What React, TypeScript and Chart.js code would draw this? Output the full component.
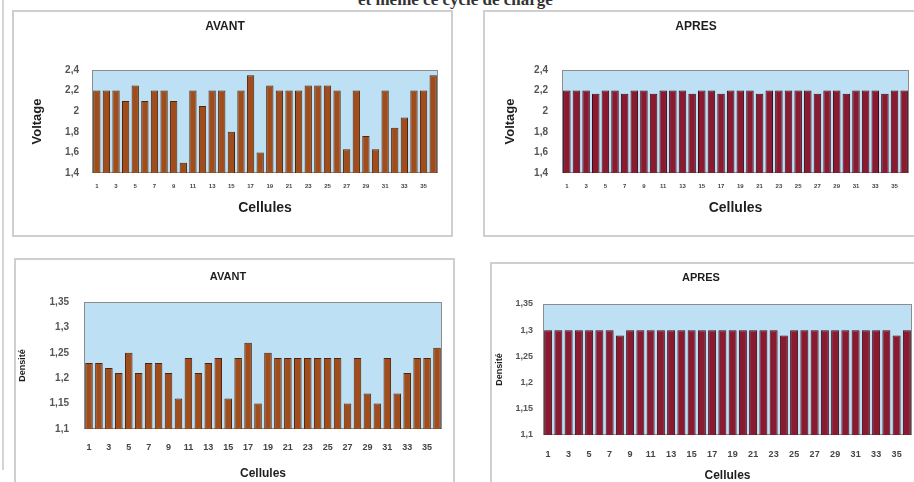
import React, { useEffect, useRef } from 'react';
import { Chart, registerables } from 'chart.js';

Chart.register(...registerables);

const cells = ['1', '2', '3', '4', '5', '6', '7', '8', '9', '10', '11', '12', '13', '14', '15', '16', '17', '18',
  '19', '20', '21', '22', '23', '24', '25', '26', '27', '28', '29', '30', '31', '32', '33', '34', '35', '36'];

const voltageAvant = [2.2, 2.2, 2.2, 2.1, 2.25, 2.1, 2.2, 2.2, 2.1, 1.5, 2.2, 2.05, 2.2, 2.2, 1.8, 2.2, 2.35, 1.6,
  2.25, 2.2, 2.2, 2.2, 2.25, 2.25, 2.25, 2.2, 1.63, 2.2, 1.76, 1.63, 2.2, 1.84, 1.94, 2.2, 2.2, 2.35];

const voltageApres = [2.2, 2.2, 2.2, 2.17, 2.2, 2.2, 2.17, 2.2, 2.2, 2.17, 2.2, 2.2, 2.2, 2.17, 2.2, 2.2, 2.17, 2.2,
  2.2, 2.2, 2.17, 2.2, 2.2, 2.2, 2.2, 2.2, 2.17, 2.2, 2.2, 2.17, 2.2, 2.2, 2.2, 2.17, 2.2, 2.2];

const densiteAvant = [1.23, 1.23, 1.22, 1.21, 1.25, 1.21, 1.23, 1.23, 1.21, 1.16, 1.24, 1.21, 1.23, 1.24, 1.16, 1.24, 1.27, 1.15,
  1.25, 1.24, 1.24, 1.24, 1.24, 1.24, 1.24, 1.24, 1.15, 1.24, 1.17, 1.15, 1.24, 1.17, 1.21, 1.24, 1.24, 1.26];

const densiteApres = [1.3, 1.3, 1.3, 1.3, 1.3, 1.3, 1.3, 1.29, 1.3, 1.3, 1.3, 1.3, 1.3, 1.3, 1.3, 1.3, 1.3, 1.3,
  1.3, 1.3, 1.3, 1.3, 1.3, 1.29, 1.3, 1.3, 1.3, 1.3, 1.3, 1.3, 1.3, 1.3, 1.3, 1.3, 1.29, 1.3];

const voltageTickValues = [1.4, 1.6, 1.8, 2, 2.2, 2.4];
const voltageTickLabels = ['1,4', '1,6', '1,8', '2', '2,2', '2,4'];
const densiteTickValues = [1.1, 1.15, 1.2, 1.25, 1.3, 1.35];
const densiteTickLabels = ['1,1', '1,15', '1,2', '1,25', '1,3', '1,35'];

const FONT = "'Liberation Sans', Arial, sans-serif";

type PanelCfg = {
  x: number; y: number; w: number; h: number;
  plot: [number, number, number, number];
  title: string; titleY: number; titleSize: number;
  yTitle: string; yTitleX: number; yTitleSize: number;
  yTickPad: number; yTickSize: number;
  xTickSize: number; xTickPad: number;
  xTitleY: number; xTitleSize: number;
  values: number[]; min: number; max: number;
  tickValues: number[]; tickLabels: string[];
  barColor: string; barEdge: string; barPct: number;
};

const plotBox = {
  id: 'plotBox',
  beforeDatasetsDraw(chart: any) {
    const { ctx, chartArea } = chart;
    const { left, top, right, bottom } = chartArea;
    ctx.save();
    ctx.fillStyle = '#bde0f4';
    ctx.fillRect(left, top, right - left, bottom - top);
    ctx.strokeStyle = '#8c8c8c';
    ctx.lineWidth = 1;
    ctx.strokeRect(left + 0.5, top + 0.5, right - left - 1, bottom - top - 1);
    ctx.restore();
  },
};

function Panel({ cfg }: { cfg: PanelCfg }) {
  const ref = useRef<HTMLCanvasElement | null>(null);
  useEffect(() => {
    const c = cfg;
    const L = c.plot[0] - c.x, T = c.plot[1] - c.y, R = c.plot[2] - c.x, B = c.plot[3] - c.y;
    const tLh = c.titleSize * 1.2;
    const tTop = (c.titleY - c.y) - tLh / 2;
    const tBot = T - tLh - tTop;
    const yLh = c.yTitleSize * 1.2;
    const xLh = c.xTitleSize * 1.2;
    const chart = new Chart(ref.current as HTMLCanvasElement, {
      type: 'bar',
      data: {
        labels: cells,
        datasets: [{
          data: c.values,
          backgroundColor: c.barColor,
          borderColor: c.barEdge,
          borderWidth: 1,
          barPercentage: c.barPct,
          categoryPercentage: 1,
        }],
      },
      options: {
        animation: false,
        responsive: false,
        devicePixelRatio: 1,
        layout: { padding: { left: 0, top: 0, right: c.w - R, bottom: 0 } },
        plugins: {
          legend: { display: false },
          tooltip: { enabled: false },
          title: {
            display: true,
            text: c.title,
            color: '#1e1e1e',
            font: { family: FONT, size: c.titleSize, weight: 'bold', lineHeight: 1.2 },
            padding: { top: tTop, bottom: tBot },
          },
        },
        scales: {
          x: {
            type: 'category',
            offset: true,
            grid: { display: false, drawTicks: false },
            border: { display: false },
            ticks: {
              autoSkip: false,
              maxRotation: 0,
              minRotation: 0,
              padding: c.xTickPad,
              color: '#444',
              font: { family: FONT, size: c.xTickSize, weight: 'bold' },
              callback: (_v: any, i: number) => (i % 2 === 0 ? cells[i] : ''),
            },
            title: {
              display: true,
              text: 'Cellules',
              color: '#1e1e1e',
              font: { family: FONT, size: c.xTitleSize, weight: 'bold', lineHeight: 1.2 },
              padding: { top: 0, bottom: c.h - (c.xTitleY - c.y) - xLh / 2 },
            },
            afterFit: (s: any) => { s.height = c.h - B; },
          },
          y: {
            min: c.min,
            max: c.max,
            grid: { display: false, drawTicks: false },
            border: { display: false },
            afterBuildTicks: (s: any) => { s.ticks = c.tickValues.map((v) => ({ value: v })); },
            ticks: {
              padding: c.yTickPad,
              color: '#555',
              font: { family: FONT, size: c.yTickSize, weight: 'bold' },
              callback: (v: any) => {
                const k = c.tickValues.findIndex((t) => Math.abs(t - Number(v)) < 1e-6);
                return k >= 0 ? c.tickLabels[k] : '';
              },
            },
            title: {
              display: true,
              text: c.yTitle,
              color: '#1e1e1e',
              font: { family: FONT, size: c.yTitleSize, weight: 'bold', lineHeight: 1.2 },
              padding: { top: (c.yTitleX - c.x) - yLh / 2, bottom: 0 },
            },
            afterFit: (s: any) => { s.width = L; },
          },
        },
      },
      plugins: [plotBox],
    } as any);
    return () => chart.destroy();
  }, [cfg]);
  return (
    <>
      <div style={{
        position: 'absolute', left: cfg.x, top: cfg.y, width: cfg.w, height: cfg.h,
        boxSizing: 'border-box', border: '2px solid #cfcfcf', background: '#fff',
      }} />
      <canvas ref={ref} width={cfg.w} height={cfg.h}
        style={{ position: 'absolute', left: cfg.x, top: cfg.y, width: cfg.w, height: cfg.h }} />
    </>
  );
}

const AVANT_FILL = '#a04d1b';
const AVANT_EDGE = '#4f240c';
const APRES_FILL = '#8a1a30';
const APRES_EDGE = '#420a16';

const panels: PanelCfg[] = [
  {
    x: 12, y: 10, w: 441, h: 227, plot: [92, 70, 438, 173],
    title: 'AVANT', titleY: 27, titleSize: 12,
    yTitle: 'Voltage', yTitleX: 37, yTitleSize: 13, yTickPad: 13, yTickSize: 10,
    xTickSize: 6, xTickPad: 10, xTitleY: 208, xTitleSize: 14,
    values: voltageAvant, min: 1.4, max: 2.4, tickValues: voltageTickValues, tickLabels: voltageTickLabels,
    barColor: AVANT_FILL, barEdge: AVANT_EDGE, barPct: 0.76,
  },
  {
    x: 483, y: 10, w: 440, h: 227, plot: [562, 70, 909, 173],
    title: 'APRES', titleY: 27, titleSize: 12,
    yTitle: 'Voltage', yTitleX: 510, yTitleSize: 13, yTickPad: 14, yTickSize: 10,
    xTickSize: 6, xTickPad: 10, xTitleY: 208, xTitleSize: 14,
    values: voltageApres, min: 1.4, max: 2.4, tickValues: voltageTickValues, tickLabels: voltageTickLabels,
    barColor: APRES_FILL, barEdge: APRES_EDGE, barPct: 0.78,
  },
  {
    x: 14, y: 258, w: 441, h: 232, plot: [84, 302, 442, 429],
    title: 'AVANT', titleY: 277, titleSize: 11,
    yTitle: 'Densité', yTitleX: 23, yTitleSize: 9, yTickPad: 15, yTickSize: 10,
    xTickSize: 9, xTickPad: 13, xTitleY: 474, xTitleSize: 12,
    values: densiteAvant, min: 1.1, max: 1.35, tickValues: densiteTickValues, tickLabels: densiteTickLabels,
    barColor: AVANT_FILL, barEdge: AVANT_EDGE, barPct: 0.76,
  },
  {
    x: 490, y: 262, w: 436, h: 228, plot: [543, 304, 912, 435],
    title: 'APRES', titleY: 278, titleSize: 11,
    yTitle: 'Densité', yTitleX: 500, yTitleSize: 9, yTickPad: 10, yTickSize: 9,
    xTickSize: 9, xTickPad: 14, xTitleY: 476, xTitleSize: 12,
    values: densiteApres, min: 1.1, max: 1.35, tickValues: densiteTickValues, tickLabels: densiteTickLabels,
    barColor: APRES_FILL, barEdge: APRES_EDGE, barPct: 0.78,
  },
];

export default function App() {
  return (
    <div style={{ position: 'fixed', left: 0, top: 0, width: 914, height: 482, overflow: 'hidden', background: '#fff' }}>
      <div style={{
        position: 'absolute', left: 358, top: -10, whiteSpace: 'nowrap',
        fontFamily: "'Liberation Serif', 'DejaVu Serif', serif", fontSize: 17, fontWeight: 'bold', color: '#333',
      }}>et même ce cycle de charge</div>
      <div style={{ position: 'absolute', left: 2, top: 0, width: 2, height: 470, background: '#d4d4d4' }} />
      {panels.map((p, i) => <Panel key={i} cfg={p} />)}
    </div>
  );
}
